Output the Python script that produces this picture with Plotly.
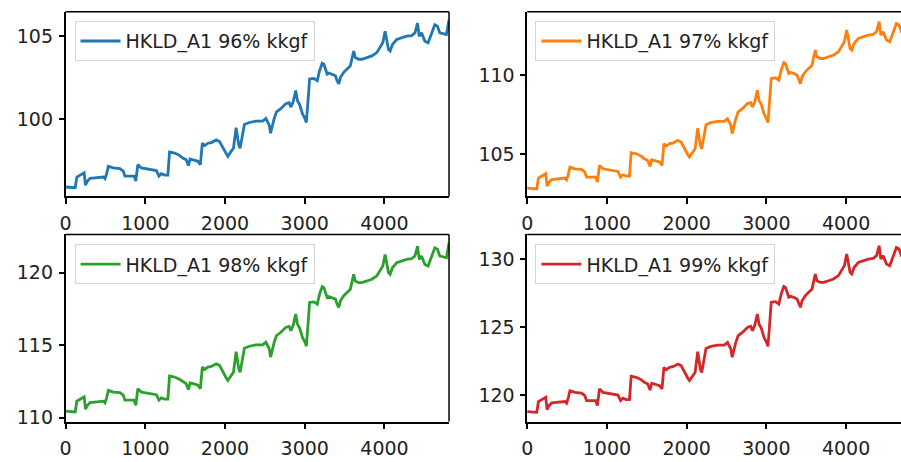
import plotly.graph_objects as go

# sample index (x) positions
idx = [0, 120, 141, 204, 233, 249, 274, 307, 390, 474,
       494, 515, 536, 598, 681, 723, 744, 860, 881, 906,
       951, 1013, 1063, 1138, 1171, 1200, 1242, 1283, 1304, 1367,
       1429, 1470, 1512, 1541, 1562, 1599, 1661, 1691, 1715, 1745,
       1786, 1828, 1890, 1931, 1973, 2015, 2035, 2077, 2106, 2139,
       2172, 2189, 2214, 2243, 2305, 2388, 2471, 2513, 2534, 2555,
       2571, 2596, 2617, 2646, 2700, 2762, 2804, 2825, 2854, 2887,
       2908, 2937, 2970, 3003, 3020, 3040, 3061, 3115, 3157, 3186,
       3219, 3240, 3261, 3281, 3302, 3344, 3385, 3406, 3427, 3448,
       3489, 3531, 3572, 3614, 3634, 3676, 3718, 3780, 3842, 3904,
       3946, 3979, 4008, 4029, 4050, 4071, 4100, 4154, 4216, 4278,
       4341, 4382, 4415, 4436, 4465, 4507, 4548, 4590, 4631, 4665,
       4694, 4735, 4777, 4810]

hkld_96 = [95.91, 95.87, 96.51, 96.67, 96.77, 96.03, 96.27, 96.43, 96.47, 96.51,
           96.41, 96.71, 97.16, 97.06, 97.02, 96.87, 96.57, 96.57, 96.27, 97.26,
           97.06, 97.00, 96.96, 96.90, 96.57, 96.71, 96.63, 96.63, 98.02, 97.96,
           97.82, 97.66, 97.56, 97.20, 97.60, 97.56, 97.46, 97.26, 98.55, 98.41,
           98.55, 98.59, 98.75, 98.65, 98.25, 97.90, 97.76, 98.06, 98.25, 99.48,
           98.45, 98.25, 98.85, 99.68, 99.80, 99.88, 99.88, 100.04, 99.84, 99.64,
           99.15, 99.74, 100.04, 100.44, 100.63, 100.93, 100.99, 100.73, 101.03, 101.73,
           101.13, 100.87, 100.34, 100.04, 99.80, 101.03, 102.42, 102.46, 102.32, 102.92,
           103.37, 103.31, 103.02, 102.72, 102.78, 102.72, 102.62, 102.32, 102.12, 102.52,
           102.82, 103.02, 103.21, 104.11, 103.71, 103.61, 103.61, 103.71, 103.81, 104.01,
           104.31, 104.60, 105.30, 104.70, 104.21, 104.11, 104.50, 104.80, 104.90, 105.00,
           105.04, 105.20, 105.79, 105.00, 105.20, 104.70, 104.60, 105.10, 105.69, 105.60,
           105.20, 105.16, 105.10, 105.99]

hkld_97 = [102.82, 102.77, 103.46, 103.63, 103.74, 102.94, 103.20, 103.37, 103.42, 103.46,
           103.35, 103.67, 104.16, 104.05, 104.01, 103.84, 103.52, 103.52, 103.20, 104.26,
           104.05, 103.98, 103.94, 103.88, 103.52, 103.67, 103.59, 103.59, 105.08, 105.01,
           104.86, 104.69, 104.58, 104.20, 104.63, 104.58, 104.48, 104.26, 105.65, 105.50,
           105.65, 105.69, 105.86, 105.75, 105.32, 104.95, 104.80, 105.12, 105.32, 106.64,
           105.54, 105.32, 105.97, 106.86, 106.99, 107.07, 107.07, 107.24, 107.03, 106.81,
           106.29, 106.92, 107.24, 107.67, 107.88, 108.20, 108.26, 107.98, 108.30, 109.05,
           108.41, 108.13, 107.56, 107.24, 106.99, 108.30, 109.79, 109.84, 109.69, 110.33,
           110.81, 110.75, 110.44, 110.12, 110.18, 110.12, 110.01, 109.69, 109.47, 109.90,
           110.22, 110.44, 110.64, 111.61, 111.18, 111.07, 111.07, 111.18, 111.28, 111.50,
           111.82, 112.13, 112.88, 112.24, 111.71, 111.61, 112.02, 112.35, 112.45, 112.56,
           112.60, 112.77, 113.41, 112.56, 112.77, 112.24, 112.13, 112.67, 113.30, 113.20,
           112.77, 112.73, 112.67, 113.62]

hkld_98 = [110.44, 110.39, 111.13, 111.32, 111.43, 110.58, 110.85, 111.04, 111.09, 111.13,
           111.02, 111.36, 111.88, 111.76, 111.72, 111.55, 111.20, 111.20, 110.85, 111.99,
           111.76, 111.70, 111.65, 111.58, 111.20, 111.36, 111.27, 111.27, 112.87, 112.80,
           112.64, 112.46, 112.34, 111.93, 112.39, 112.34, 112.23, 111.99, 113.48, 113.32,
           113.48, 113.53, 113.71, 113.60, 113.13, 112.73, 112.57, 112.92, 113.13, 114.55,
           113.37, 113.13, 113.83, 114.78, 114.92, 115.01, 115.01, 115.20, 114.97, 114.74,
           114.17, 114.85, 115.20, 115.66, 115.88, 116.22, 116.29, 115.99, 116.34, 117.14,
           116.45, 116.15, 115.54, 115.20, 114.92, 116.34, 117.94, 117.98, 117.82, 118.51,
           119.03, 118.96, 118.63, 118.28, 118.35, 118.28, 118.17, 117.82, 117.59, 118.05,
           118.40, 118.63, 118.85, 119.88, 119.42, 119.31, 119.31, 119.42, 119.54, 119.77,
           120.11, 120.45, 121.25, 120.56, 120.00, 119.88, 120.33, 120.68, 120.79, 120.91,
           120.95, 121.14, 121.82, 120.91, 121.14, 120.56, 120.45, 121.02, 121.70, 121.60,
           121.14, 121.09, 121.02, 122.05]

hkld_99 = [118.77, 118.72, 119.51, 119.71, 119.83, 118.91, 119.21, 119.41, 119.46, 119.51,
           119.39, 119.76, 120.31, 120.19, 120.14, 119.95, 119.58, 119.58, 119.21, 120.44,
           120.19, 120.12, 120.07, 119.99, 119.58, 119.76, 119.66, 119.66, 121.38, 121.30,
           121.13, 120.93, 120.81, 120.36, 120.86, 120.81, 120.68, 120.44, 122.03, 121.86,
           122.03, 122.08, 122.28, 122.16, 121.66, 121.23, 121.06, 121.43, 121.66, 123.19,
           121.91, 121.66, 122.41, 123.43, 123.58, 123.68, 123.68, 123.88, 123.63, 123.38,
           122.78, 123.51, 123.88, 124.37, 124.61, 124.98, 125.06, 124.73, 125.11, 125.97,
           125.23, 124.91, 124.25, 123.88, 123.58, 125.11, 126.83, 126.88, 126.70, 127.45,
           128.00, 127.93, 127.57, 127.20, 127.27, 127.20, 127.07, 126.70, 126.46, 126.95,
           127.32, 127.57, 127.80, 128.92, 128.42, 128.30, 128.30, 128.42, 128.55, 128.80,
           129.17, 129.53, 130.39, 129.65, 129.04, 128.92, 129.40, 129.77, 129.90, 130.02,
           130.07, 130.27, 131.00, 130.02, 130.27, 129.65, 129.53, 130.14, 130.87, 130.76,
           130.27, 130.22, 130.14, 131.25]

series_names = ["HKLD_A1 96% kkgf", "HKLD_A1 97% kkgf", "HKLD_A1 98% kkgf", "HKLD_A1 99% kkgf"]
series_values = [hkld_96, hkld_97, hkld_98, hkld_99]
colors = ["#1f77b4", "#ff7f0e", "#2ca02c", "#d62728"]
y_ranges = [[95.34, 106.47], [102.29, 114.04], [109.73, 122.63], [118.04, 131.84]]
x_ranges = [[0, 4810], [0, 4689], [0, 4810], [0, 4689]]
x_ticks = [0, 1000, 2000, 3000, 4000]

W, H = 901, 462
x_domains = [[60 / W, 446 / W], [524.7 / W, 1.0], [60 / W, 446 / W], [524.7 / W, 1.0]]
y_domains = [[1 - 199.5 / H, 1 - 12 / H], [1 - 199.5 / H, 1 - 12 / H],
             [1 - 428 / H, 1 - 238 / H], [1 - 428 / H, 1 - 238 / H]]
legend_pos = [(69 / W, 1 - 21.5 / H), (533 / W, 1 - 21.5 / H),
              (69 / W, 1 - 248 / H), (533 / W, 1 - 248 / H)]

FONT = "DejaVu Sans"
fig = go.Figure()
layout = dict(width=W, height=H, margin=dict(l=0, r=0, t=0, b=0),
              paper_bgcolor="white", plot_bgcolor="white", showlegend=True,
              font=dict(family=FONT, size=19, color="#222"))
shapes = []
for i in range(4):
    n = "" if i == 0 else str(i + 1)
    fig.add_trace(go.Scatter(x=idx, y=series_values[i], mode="lines", name=series_names[i],
                             line=dict(color=colors[i], width=2.8),
                             xaxis="x" + n, yaxis="y" + n,
                             legend="legend" + n, showlegend=True))
    layout["xaxis" + n] = dict(domain=x_domains[i], range=x_ranges[i], anchor="y" + n,
                               tickmode="array", tickvals=x_ticks, showgrid=False, zeroline=False,
                               showline=True, linecolor="black", linewidth=1.5,
                               ticks="outside", ticklen=6, tickwidth=1.5, tickcolor="black",
                               ticklabelstandoff=3, tickfont=dict(family=FONT, size=19))
    layout["yaxis" + n] = dict(domain=y_domains[i], range=y_ranges[i], anchor="x" + n,
                               dtick=5, tick0=0, showgrid=False, zeroline=False,
                               showline=True, linecolor="black", linewidth=1.5,
                               ticks="outside", ticklen=5, tickwidth=1.5, tickcolor="black",
                               ticklabelstandoff=2, tickfont=dict(family=FONT, size=19))
    layout["legend" + n] = dict(x=legend_pos[i][0], y=legend_pos[i][1], xanchor="left", yanchor="top",
                                xref="paper", yref="paper",
                                bgcolor="rgba(255,255,255,0.8)", bordercolor="#d4d4d4", borderwidth=1,
                                font=dict(family=FONT, size=19, color="#222"), itemwidth=40,
                                tracegroupgap=0)
    # top frame line
    shapes.append(dict(type="line", xref="x" + n + " domain", yref="y" + n + " domain",
                       x0=0, x1=1, y0=1, y1=1, line=dict(color="black", width=1.5)))
    if i in (0, 2):
        shapes.append(dict(type="line", xref="x" + n + " domain", yref="y" + n + " domain",
                           x0=1, x1=1, y0=0, y1=1, line=dict(color="black", width=1.5)))
layout["shapes"] = shapes
fig.update_layout(**layout)
fig.write_html("out.html")
